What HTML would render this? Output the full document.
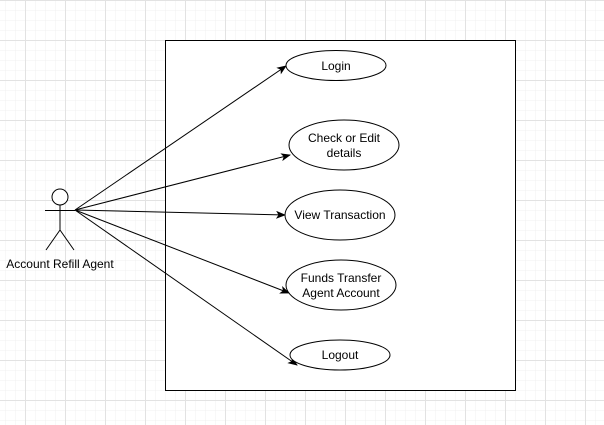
<!DOCTYPE html>
<html><head><style>
html,body{margin:0;padding:0;background:#fff;}
svg{display:block;}
text{font-family:"Liberation Sans",Arial,sans-serif;font-size:12px;fill:#000;}
</style></head><body>
<svg width="604" height="425" xmlns="http://www.w3.org/2000/svg">
<defs>
<pattern id="minor" x="5" y="0" width="10" height="10" patternUnits="userSpaceOnUse">
<path d="M0 0H10M0 0V10" stroke="#f1f1f1" stroke-width="1" fill="none"/>
</pattern>
<pattern id="major" x="25" y="0" width="40" height="40" patternUnits="userSpaceOnUse">
<path d="M0 0.5H40M0.5 0V40" stroke="#e2e2e2" stroke-width="1" fill="none"/>
</pattern>
<marker id="a" markerWidth="10" markerHeight="8" refX="9" refY="4" orient="auto" markerUnits="userSpaceOnUse">
<path d="M0 0L10 4L0 8L2.5 4Z" fill="#000"/>
</marker>
</defs>
<rect width="604" height="425" fill="url(#minor)"/>
<rect width="604" height="425" fill="url(#major)"/>
<rect x="165.5" y="40.5" width="350" height="350" fill="#fff" stroke="#000"/>
<g stroke="#000" fill="none">
<circle cx="60" cy="197" r="8" fill="#fff"/>
<line x1="60" y1="205" x2="60" y2="230"/>
<line x1="45" y1="210.5" x2="75" y2="210.5"/>
<line x1="60" y1="230" x2="46" y2="250"/>
<line x1="60" y1="230" x2="74" y2="250"/>
<line x1="75" y1="210" x2="286" y2="66" marker-end="url(#a)"/>
<line x1="75" y1="210" x2="290" y2="155" marker-end="url(#a)"/>
<line x1="75" y1="210" x2="285" y2="215" marker-end="url(#a)"/>
<line x1="75" y1="210" x2="289" y2="293" marker-end="url(#a)"/>
<line x1="75" y1="210" x2="297" y2="365" marker-end="url(#a)"/>
<ellipse cx="336" cy="65.5" rx="50" ry="15" fill="#fff"/>
<ellipse cx="344" cy="145" rx="55" ry="25" fill="#fff"/>
<ellipse cx="340" cy="215" rx="55" ry="25" fill="#fff"/>
<ellipse cx="341" cy="285" rx="55" ry="25" fill="#fff"/>
<ellipse cx="340" cy="355" rx="50" ry="15" fill="#fff"/>
</g>
<g text-anchor="middle">
<text x="60" y="268">Account Refill Agent</text>
<text x="336" y="70">Login</text>
<text x="344" y="142">Check or Edit</text>
<text x="344" y="157">details</text>
<text x="340" y="219">View Transaction</text>
<text x="341" y="282">Funds Transfer</text>
<text x="341" y="297">Agent Account</text>
<text x="340" y="359">Logout</text>
</g>
</svg>
</body></html>
